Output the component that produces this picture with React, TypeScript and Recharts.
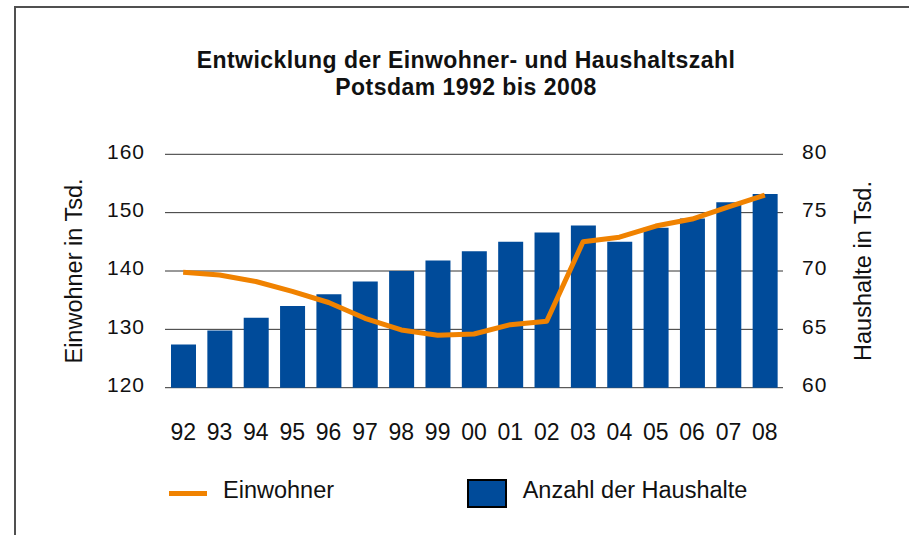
import React from "react";
import {
  ComposedChart,
  Bar,
  Line,
  XAxis,
  YAxis,
  CartesianGrid
} from "recharts";

// Jahre 1992 bis 2008 (zweistellig wie im Original)
const years = ["92", "93", "94", "95", "96", "97", "98", "99", "00", "01", "02", "03", "04", "05", "06", "07", "08"];
// Einwohner in Tsd. (linke Achse)
const einwohner = [139.8, 139.3, 138.2, 136.5, 134.6, 131.9, 129.9, 129.0, 129.2, 130.8, 131.4, 145.0, 145.8, 147.7, 148.9, 151.0, 153.0];
// Haushalte in Tsd. (rechte Achse)
const haushalte = [63.7, 64.9, 66.0, 67.0, 68.0, 69.1, 70.0, 70.9, 71.7, 72.5, 73.3, 73.9, 72.5, 73.7, 74.5, 75.9, 76.6];

const leftTicks = [120, 130, 140, 150, 160];
const rightTicks = [60, 65, 70, 75, 80];

const ORANGE = "#F08200";
const BLUE = "#004B9A";
const FONT = "'Liberation Sans', Arial, Helvetica, sans-serif";

const data = years.map((year, i) => ({
  year,
  einwohner: einwohner[i],
  haushalte: haushalte[i]
}));

export default function App() {
  return (
    <div
      style={{
        position: "absolute",
        left: 0,
        top: 0,
        width: 909,
        height: 535,
        background: "#fff",
        fontFamily: FONT,
        color: "#111",
        overflow: "hidden"
      }}
    >
      {/* Rahmen oben und links */}
      <div
        style={{
          position: "absolute",
          left: 14,
          top: 6,
          width: 909,
          height: 600,
          borderTop: "2px solid #505050",
          borderLeft: "2px solid #505050"
        }}
      />

      {/* Titel */}
      <div
        style={{
          position: "absolute",
          left: 0,
          top: 46.7,
          width: 932,
          textAlign: "center",
          fontSize: 23,
          fontWeight: "bold",
          lineHeight: "27px",
          letterSpacing: 0.45
        }}
      >
        Entwicklung der Einwohner- und Haushaltszahl
        <br />
        Potsdam 1992 bis 2008
      </div>

      <div style={{ position: "absolute", left: 0, top: 0 }}>
        <ComposedChart
          width={909}
          height={535}
          data={data}
          margin={{ top: 154.3, right: 0, bottom: 0, left: 0 }}
          style={{ fontFamily: FONT }}
        >
          <CartesianGrid horizontal={true} vertical={false} stroke="#333" yAxisId="left" />
          <XAxis
            dataKey="year"
            height={147.3}
            axisLine={false}
            tickLine={false}
            tickMargin={30}
            interval={0}
            tick={{ fontSize: 23, fill: "#111" }}
          />
          <YAxis
            yAxisId="left"
            orientation="left"
            width={165}
            domain={[120, 160]}
            ticks={leftTicks}
            axisLine={false}
            tickLine={false}
            tickMargin={14}
            tick={{ fontSize: 21, fill: "#111", dy: -3, letterSpacing: 1 }}
            label={{
              value: "Einwohner in Tsd.",
              angle: -90,
              position: "insideLeft",
              offset: 73.5,
              style: { textAnchor: "middle", fontSize: 23.5, fill: "#111" }
            }}
          />
          <YAxis
            yAxisId="right"
            orientation="right"
            width={126}
            domain={[60, 80]}
            ticks={rightTicks}
            axisLine={false}
            tickLine={false}
            tickMargin={13}
            tick={{ fontSize: 21, fill: "#111", dy: -3, letterSpacing: 1 }}
            label={{
              value: "Haushalte in Tsd.",
              angle: -90,
              position: "insideRight",
              offset: 46,
              style: { textAnchor: "middle", fontSize: 23.5, fill: "#111" }
            }}
          />
          <Bar
            yAxisId="right"
            dataKey="haushalte"
            name="Anzahl der Haushalte"
            fill={BLUE}
            barSize={25}
            isAnimationActive={false}
          />
          <Line
            yAxisId="left"
            type="linear"
            dataKey="einwohner"
            name="Einwohner"
            stroke={ORANGE}
            strokeWidth={5}
            strokeLinejoin="round"
            dot={false}
            activeDot={false}
            isAnimationActive={false}
          />
        </ComposedChart>
      </div>

      {/* Legende */}
      <div
        style={{
          position: "absolute",
          left: 169,
          top: 491,
          width: 38,
          height: 5,
          background: ORANGE
        }}
      />
      <div
        style={{
          position: "absolute",
          left: 223,
          top: 479.4,
          fontSize: 23.5,
          lineHeight: 1,
          whiteSpace: "nowrap"
        }}
      >
        Einwohner
      </div>
      <div
        style={{
          position: "absolute",
          left: 467,
          top: 479,
          width: 40,
          height: 29,
          boxSizing: "border-box",
          background: BLUE,
          border: "2px solid #000"
        }}
      />
      <div
        style={{
          position: "absolute",
          left: 522.7,
          top: 479.4,
          fontSize: 23.5,
          lineHeight: 1,
          whiteSpace: "nowrap"
        }}
      >
        Anzahl der Haushalte
      </div>
    </div>
  );
}
